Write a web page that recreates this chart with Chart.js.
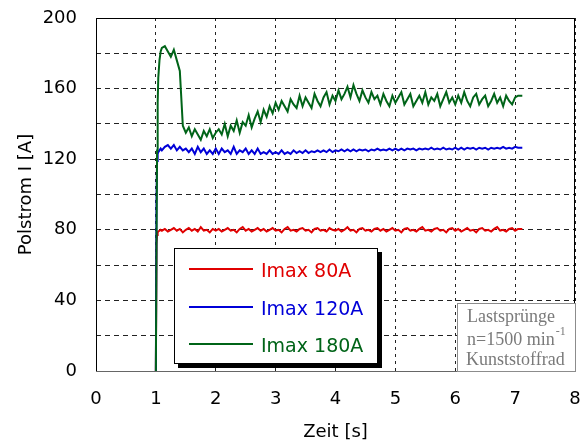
<!DOCTYPE html>
<html>
<head>
<meta charset="utf-8">
<script src="https://cdn.jsdelivr.net/npm/chart.js@4.4.1/dist/chart.umd.min.js"></script>
<style>
  html, body { margin: 0; padding: 0; background: #fff; }
  canvas { display: block; }
</style>
</head>
<body>
<canvas id="c" width="584" height="445"></canvas>
<script>
// Sample times [s]
const times = [
  1.00, 1.01, 1.02, 1.03, 1.04, 1.06, 1.08, 1.10,
  1.15, 1.20, 1.25, 1.30, 1.35, 1.40, 1.45, 1.50, 1.55, 1.60, 1.65, 1.70, 1.75, 1.80, 1.85, 1.90, 1.95, 2.00,
  2.05, 2.10, 2.15, 2.20, 2.25, 2.30, 2.35, 2.40, 2.45, 2.50, 2.55, 2.60, 2.65, 2.70, 2.75, 2.80, 2.85, 2.90, 2.95, 3.00,
  3.05, 3.10, 3.15, 3.20, 3.25, 3.30, 3.35, 3.40, 3.45, 3.50, 3.55, 3.60, 3.65, 3.70, 3.75, 3.80, 3.85, 3.90, 3.95, 4.00,
  4.05, 4.10, 4.15, 4.20, 4.25, 4.30, 4.35, 4.40, 4.45, 4.50, 4.55, 4.60, 4.65, 4.70, 4.75, 4.80, 4.85, 4.90, 4.95, 5.00,
  5.05, 5.10, 5.15, 5.20, 5.25, 5.30, 5.35, 5.40, 5.45, 5.50, 5.55, 5.60, 5.65, 5.70, 5.75, 5.80, 5.85, 5.90, 5.95, 6.00,
  6.05, 6.10, 6.15, 6.20, 6.25, 6.30, 6.35, 6.40, 6.45, 6.50, 6.55, 6.60, 6.65, 6.70, 6.75, 6.80, 6.85, 6.90, 6.95, 7.00,
  7.05, 7.12
];

// Pole current [A], current limit 80 A
const imax80 = [
  0, 72, 77, 78.5, 79, 79.5, 80, 79.5,
  80.5, 79, 80, 81, 79.5, 80.5, 78.5, 80, 81, 79.5, 80.5, 79, 81.5, 79.5, 80, 78.5, 80.5, 79.5,
  80.5, 79, 80, 81, 79.5, 80, 78.5, 80.5, 81.5, 79.5, 80.5, 79, 80, 81, 79.5, 80.5, 79, 80, 81, 79.5,
  80, 78.5, 80.5, 81.5, 79.5, 80, 79, 80.5, 81, 79.5, 80, 78.5, 80.5, 81, 79.5, 80, 79, 81, 80, 79.5,
  80.5, 79, 80, 81.5, 79.5, 80, 78.5, 80.5, 81, 79.5, 80, 79, 80.5, 81, 79.5, 80.5, 79, 80, 81, 79.5,
  80, 78.5, 80.5, 81, 79.5, 80, 79, 80.5, 81.5, 79.5, 80, 79, 80.5, 81, 79.5, 80, 78.5, 80.5, 81, 79.5,
  80.5, 79, 80, 81, 79.5, 80, 78.5, 80.5, 81, 79.5, 80, 79, 80.5, 81.5, 79.5, 80, 79, 80.5, 81, 79.5,
  80.5, 80.5
];

// Pole current [A], current limit 120 A
const imax120 = [
  0, 95, 119, 123, 124, 125, 126, 125,
  127, 128, 126, 128, 125, 127, 125, 126, 124, 126, 123, 127, 124, 126, 123, 125, 123, 126,
  123, 126, 124, 125, 123, 127, 123, 125, 124, 126, 123, 125, 123, 126, 123, 124, 123, 125, 123, 124,
  123, 125, 123, 124, 123, 125, 123.5, 124.5, 123.5, 125, 123.5, 124.5, 124, 125, 124, 125, 124, 125.5, 124, 125,
  124.5, 125.5, 124.5, 125.5, 124.5, 125.5, 124.5, 125.5, 125, 125.5, 124.5, 125.5, 125, 126, 125, 125.5, 125, 126, 125, 126,
  125, 126, 125, 126, 125.5, 126, 125, 126, 125.5, 126, 125.5, 126.5, 125.5, 126, 125.5, 126.5, 125.5, 126, 125.5, 126.5,
  125.5, 126.5, 125.5, 126.5, 126, 126.5, 125.5, 126.5, 126, 126.5, 125.5, 126.5, 126, 126.5, 126, 127, 126, 126.5, 126, 127,
  126.5, 126.5
];

// Pole current [A], current limit 180 A
const imax180 = [
  0, 70, 125, 152, 166, 176, 181, 183,
  184, 181, 178, 182, 176, 170, 139, 135, 138, 133, 137, 134, 131, 136, 133, 137, 132, 135,
  137, 134, 140, 133, 139, 136, 142, 135, 141, 139, 145, 138, 143, 147, 141, 148, 144, 150, 146, 152,
  148, 153, 150, 147, 154, 151, 149, 156, 150, 155, 152, 149, 157, 153, 150, 155, 158, 151, 156, 153,
  159, 154, 157, 161, 155, 162, 157, 153, 159, 155, 152, 158, 154, 156, 151, 157, 153, 150, 156, 152,
  155, 158, 151, 154, 157, 150, 153, 156, 152, 158, 151, 155, 153, 157, 150, 154, 158, 152, 155, 151,
  156, 152, 158, 153, 150, 155, 157, 151, 154, 156, 150, 153, 157, 152, 155, 150, 156, 153, 151, 155,
  156, 156
];

const seriesLabels = ['Imax 80A', 'Imax 120A', 'Imax 180A'];
const seriesColors = ['#e00000', '#0000d8', '#006418'];

const noteLines = ['Lastsprünge', 'n=1500 min', 'Kunststoffrad'];
const noteSup = '-1';

const SANS = '"DejaVu Sans", sans-serif';
const SERIF = '"Liberation Serif", "DejaVu Serif", serif';

const toPoints = vals => times.map((t, i) => ({ x: t, y: vals[i] }));

// Frame, legend box and text box drawn onto the chart
const decorations = {
  id: 'decorations',
  afterDatasetsDraw(chart) {
    const ctx = chart.ctx;
    const a = chart.chartArea;
    ctx.save();

    // plot frame
    ctx.strokeStyle = '#000';
    ctx.lineWidth = 1;
    ctx.setLineDash([]);
    ctx.beginPath();
    ctx.moveTo(a.left + 0.5, a.bottom);
    ctx.lineTo(a.left + 0.5, a.top + 0.5);
    ctx.lineTo(a.right - 0.5, a.top + 0.5);
    ctx.lineTo(a.right - 0.5, a.bottom);
    ctx.stroke();
    ctx.strokeStyle = '#666';
    ctx.beginPath();
    ctx.moveTo(a.left, a.bottom + 0.5);
    ctx.lineTo(a.right, a.bottom + 0.5);
    ctx.stroke();

    // legend with drop shadow
    const lx = a.left + 78, ly = a.top + 230, lw = 204, lh = 116;
    ctx.fillStyle = '#000';
    ctx.fillRect(lx + 4, ly + 4, lw, lh);
    ctx.fillStyle = '#fff';
    ctx.fillRect(lx, ly, lw, lh);
    ctx.strokeStyle = '#000';
    ctx.strokeRect(lx + 0.5, ly + 0.5, lw - 1, lh - 1);
    const rows = [21, 59, 96];
    ctx.font = '19px ' + SANS;
    ctx.textBaseline = 'alphabetic';
    ctx.textAlign = 'left';
    chart.data.datasets.forEach((ds, i) => {
      const y = ly + rows[i];
      ctx.strokeStyle = ds.borderColor;
      ctx.lineWidth = 2;
      ctx.beginPath();
      ctx.moveTo(lx + 15, y);
      ctx.lineTo(lx + 79, y);
      ctx.stroke();
      ctx.fillStyle = ds.borderColor;
      ctx.fillText(ds.label, lx + 87, y + 7.5);
    });

    // operating-point note
    const nx = a.right - 118, ny = a.bottom - 68, nw = 119, nh = 69;
    ctx.fillStyle = '#fff';
    ctx.fillRect(nx, ny, nw, nh);
    ctx.strokeStyle = '#8c8c8c';
    ctx.lineWidth = 1;
    ctx.strokeRect(nx + 0.5, ny + 0.5, nw - 1, nh - 1);
    ctx.fillStyle = '#7a7a7a';
    ctx.font = '18px ' + SERIF;
    ctx.fillText(noteLines[0], nx + 10, ny + 18.5);
    ctx.fillText(noteLines[1], nx + 10, ny + 42);
    const w = ctx.measureText(noteLines[1]).width;
    ctx.fillText(noteLines[2], nx + 9, ny + 62);
    ctx.font = '12px ' + SERIF;
    ctx.fillText(noteSup, nx + 10 + w + 1, ny + 32);

    ctx.restore();
  }
};

new Chart(document.getElementById('c'), {
  type: 'line',
  data: {
    datasets: [
      { label: seriesLabels[0], data: toPoints(imax80), borderColor: seriesColors[0], order: 2 },
      { label: seriesLabels[1], data: toPoints(imax120), borderColor: seriesColors[1], order: 1 },
      { label: seriesLabels[2], data: toPoints(imax180), borderColor: seriesColors[2], order: 0 }
    ]
  },
  options: {
    responsive: false,
    animation: false,
    devicePixelRatio: 1,
    layout: { padding: { top: 18, right: 9, left: 0, bottom: 0 } },
    elements: {
      point: { radius: 0 },
      line: { borderWidth: 2, tension: 0, fill: false }
    },
    plugins: {
      legend: { display: false },
      tooltip: { enabled: false }
    },
    scales: {
      x: {
        type: 'linear',
        min: 0,
        max: 8,
        afterFit: s => {
          s.height = 74;
          s.paddingLeft = 0;
          s.paddingRight = 0;
        },
        ticks: {
          stepSize: 1,
          autoSkip: false,
          maxRotation: 0,
          padding: 18,
          color: '#000',
          font: { family: SANS, size: 18 }
        },
        grid: { color: '#222', lineWidth: 1, drawTicks: false },
        border: { display: false, dash: [3, 4] },
        title: {
          display: true,
          text: 'Zeit [s]',
          color: '#000',
          font: { family: SANS, size: 18 },
          padding: { top: 0, bottom: 2 }
        }
      },
      y: {
        type: 'linear',
        min: 0,
        max: 200,
        afterFit: s => {
          s.width = 96;
          s.paddingTop = 0;
          s.paddingBottom = 0;
        },
        ticks: {
          stepSize: 20,
          padding: 19,
          color: '#000',
          font: { family: SANS, size: 18 },
          callback: v => (v % 40 === 0 ? String(v) : '')
        },
        grid: { color: '#222', lineWidth: 1, drawTicks: false },
        border: { display: false, dash: [5, 4] },
        title: {
          display: true,
          text: 'Polstrom I [A]',
          color: '#000',
          font: { family: SANS, size: 18 },
          padding: { top: 16, bottom: 0 }
        }
      }
    }
  },
  plugins: [decorations]
});
</script>
</body>
</html>
